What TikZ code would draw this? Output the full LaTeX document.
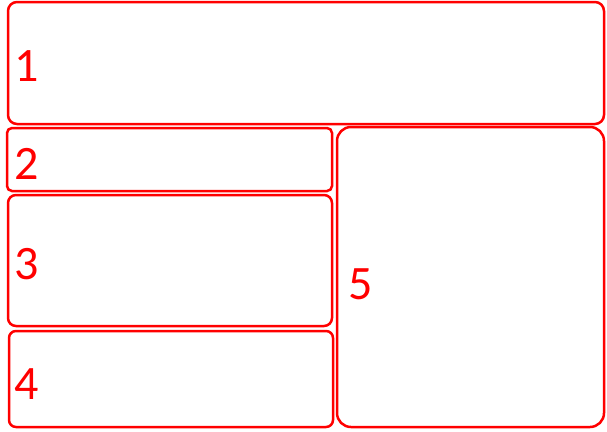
\documentclass[tikz,border=0pt]{standalone}
\usepackage{fontspec}
\setmainfont{Carlito}
\begin{document}
\begin{tikzpicture}[x=1pt,y=-1pt,
  panel/.style={draw=red,line width=2.5pt},
  num/.style={text=red,font=\fontsize{48}{48}\selectfont,inner sep=0pt}]
\useasboundingbox (0,0) rectangle (607,431);
\draw[panel,rounded corners=9pt] (8,2) rectangle (604,124);
\draw[panel,rounded corners=5pt] (7,128) rectangle (332,191);
\draw[panel,rounded corners=8pt] (8,195) rectangle (332,326);
\draw[panel,rounded corners=7pt] (9,331) rectangle (333,427);
\draw[panel,rounded corners=14pt] (337,127) rectangle (604,427);
\node[num] (n1) at (27,66) {1};
\node[num] (n2) at (27,164) {2};
\node[num] (n3) at (27,264) {3};
\node[num] (n4) at (27,384) {4};
\node[num] (n5) at (361,284) {5};
\end{tikzpicture}
\end{document}
